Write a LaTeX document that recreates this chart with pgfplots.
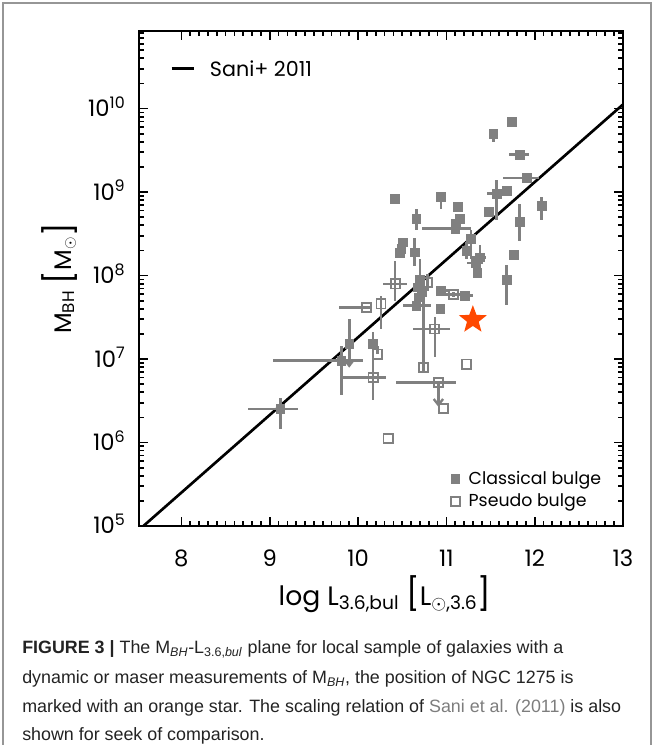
\documentclass[border=0pt]{standalone}
\usepackage{fontspec}
\setmainfont{Liberation Sans}
\newfontfamily\plotfont{Poppins}
\usepackage{pgfplots}
\usepackage{pgfplotstable}
\pgfplotsset{compat=1.18}
\definecolor{pgray}{RGB}{128,128,128}
\definecolor{starorange}{RGB}{255,72,0}
\definecolor{framegray}{RGB}{150,150,150}
\definecolor{linkgray}{RGB}{125,125,125}
\definecolor{captext}{RGB}{35,35,35}

\pgfdeclareplotmark{varrow}{%
  \pgfpathmoveto{\pgfqpoint{-3.5pt}{4.5pt}}%
  \pgfpathlineto{\pgfqpoint{0pt}{0pt}}%
  \pgfpathlineto{\pgfqpoint{3.5pt}{4.5pt}}%
  \pgfusepathqstroke}
\pgfdeclareplotmark{fstar}{%
  \pgfpathmoveto{\pgfpointpolar{90}{\pgfplotmarksize}}%
  \pgfpathlineto{\pgfpointpolar{126}{0.42\pgfplotmarksize}}%
  \pgfpathlineto{\pgfpointpolar{162}{\pgfplotmarksize}}%
  \pgfpathlineto{\pgfpointpolar{198}{0.42\pgfplotmarksize}}%
  \pgfpathlineto{\pgfpointpolar{234}{\pgfplotmarksize}}%
  \pgfpathlineto{\pgfpointpolar{270}{0.42\pgfplotmarksize}}%
  \pgfpathlineto{\pgfpointpolar{306}{\pgfplotmarksize}}%
  \pgfpathlineto{\pgfpointpolar{342}{0.42\pgfplotmarksize}}%
  \pgfpathlineto{\pgfpointpolar{18}{\pgfplotmarksize}}%
  \pgfpathlineto{\pgfpointpolar{54}{0.42\pgfplotmarksize}}%
  \pgfpathclose\pgfusepathqfill}

% x = log L, y = log M_BH, errors in dex
\pgfplotstableread{
x y xm xp ym yp
9.12 6.40 0.37 0.20 0.24 0.13
9.90 7.18 0 0 0.26 0.30
9.81 6.98 0.77 0.25 0.41 0.18
10.17 7.18 0 0 0.05 0.14
10.42 8.92 0 0 0 0
10.94 8.94 0 0 0.14 0
11.13 8.82 0 0 0 0
10.66 8.68 0 0 0.14 0.12
11.15 8.68 0.04 0.04 0.04 0.04
11.11 8.62 0 0 0 0
11.10 8.56 0.38 0.18 0 0
10.51 8.40 0.04 0.04 0.04 0.04
10.49 8.32 0.03 0.03 0.04 0.04
10.47 8.27 0.03 0.03 0.06 0.04
10.64 8.28 0 0 0.17 0.17
10.70 7.95 0 0 0.25 0.25
10.68 7.86 0.04 0.04 0.08 0.08
10.72 7.80 0.05 0.05 0.10 0.10
10.69 7.74 0.03 0.03 0.05 0.10
10.94 7.82 0.05 0.10 0 0
11.21 7.76 0.06 0.09 0.04 0.04
10.66 7.64 0.15 0.17 0 0
10.93 7.60 0 0 0 0
11.28 8.44 0.04 0.04 0.10 0.10
11.23 8.30 0 0 0.10 0.10
11.38 8.22 0.11 0.07 0.13 0.15
11.33 8.15 0.10 0.08 0 0
11.35 8.03 0 0 0.06 0.10
11.53 9.70 0 0 0.10 0.06
11.74 9.84 0 0 0 0
11.83 9.45 0.12 0.11 0 0
11.91 9.17 0.27 0.14 0 0
11.57 8.98 0.11 0.09 0.32 0.16
11.68 9.02 0 0 0 0
11.48 8.76 0.03 0.03 0.04 0.04
11.83 8.64 0 0 0.22 0.22
12.08 8.84 0.04 0.04 0.18 0.10
11.76 8.25 0.03 0.03 0.06 0.06
11.68 7.95 0 0 0.30 0.18
}\classical

\pgfplotstableread{
x y xm xp ym yp
10.42 7.90 0.14 0.13 0.20 0.28
10.79 7.92 0 0 0.10 0.10
10.10 7.62 0.31 0.05 0 0
10.26 7.66 0 0 0.30 0.09
11.08 7.77 0.15 0.16 0.03 0.03
10.87 7.36 0.25 0.17 0.34 0.14
10.22 7.06 0 0 0 0.10
10.17 6.78 0.34 0.15 0.27 0.40
10.74 6.90 0 0 0.05 1.05
11.23 6.94 0 0 0 0
10.91 6.72 0.48 0.20 0.27 0
10.97 6.41 0 0 0 0
10.34 6.05 0 0 0 0
}\pseudo

\newcommand\bigbr[1]{{\fontsize{24}{24}\selectfont #1}}

\begin{document}
\begin{tikzpicture}
\path[use as bounding box] (0,0) rectangle (490.5pt,558.75pt);
\draw[framegray, line width=1.5pt] (2.25pt,0pt) -- (2.25pt,556.5pt) -- (487.9pt,556.5pt) -- (487.9pt,0pt);
\begin{axis}[
  at={(104.25pt,164.25pt)}, anchor=south west,
  scale only axis, width=363pt, height=371.25pt,
  xmin=7.52, xmax=13.0, ymin=5, ymax=10.93,
  xtick={8,9,10,11,12,13}, xticklabels={8,9,10,11,12,13},
  minor x tick num=9,
  ytick={5,6,7,8,9,10},
  yticklabels={10\textsuperscript{5},10\textsuperscript{6},10\textsuperscript{7},10\textsuperscript{8},10\textsuperscript{9},10\textsuperscript{10}},
  minor ytick={5.30103,5.47712,5.60206,5.69897,5.77815,5.84510,5.90309,5.95424,
               6.30103,6.47712,6.60206,6.69897,6.77815,6.84510,6.90309,6.95424,
               7.30103,7.47712,7.60206,7.69897,7.77815,7.84510,7.90309,7.95424,
               8.30103,8.47712,8.60206,8.69897,8.77815,8.84510,8.90309,8.95424,
               9.30103,9.47712,9.60206,9.69897,9.77815,9.84510,9.90309,9.95424,
               10.30103,10.47712,10.60206,10.69897,10.77815,10.84510,10.90309},
  /pgf/number format/assume math mode=true,
  tick align=inside, xtick pos=both, ytick pos=both,
  major tick length=7pt, minor tick length=3.5pt,
  every tick/.style={black, line width=1.3pt},
  axis line style={black, line width=2pt},
  tick label style={font=\plotfont\fontsize{17}{17}\selectfont},
  xticklabel style={anchor=center, yshift=-24pt, inner sep=0pt},
  yticklabel style={anchor=base east, xshift=-10pt, yshift=-6pt, inner sep=0pt},
  xlabel={log\ L\textsubscript{3.6,bul}\ \bigbr{[}L\textsubscript{$\odot$,3.6}\bigbr{]}},
  ylabel={M\textsubscript{BH}\ \bigbr{[}M$_\odot$\bigbr{]}},
  xlabel style={font=\plotfont\fontsize{20}{20}\selectfont, at={(axis description cs:0.508,-0.137)}, anchor=center},
  ylabel style={font=\plotfont\fontsize{18}{18}\selectfont, at={(axis description cs:-0.165,0.5)}, anchor=center},
  legend style={draw=none, fill=none, font=\plotfont\fontsize{13}{13}\selectfont,
    at={(axis description cs:0.642,0.116)}, anchor=north west,
    row sep=1.5pt, inner sep=0pt},
  legend image code/.code={\path[draw=none, fill=none] (0pt,-5pt) rectangle (12pt,5pt); \draw[#1] plot coordinates {(4pt,0pt)};},
  legend cell align=left,
  clip=true,
]
\addplot[black, line width=2pt, forget plot] coordinates {(7.5,4.935) (13,10.05)};
\addplot[only marks, mark=square*, mark size=3.3pt, color=pgray,
  error bars/.cd, x dir=both, x explicit, y dir=both, y explicit,
  error bar style={line width=2pt, pgray}, error mark=none]
  table[x=x, y=y, x error plus=xp, x error minus=xm, y error plus=yp, y error minus=ym] {\classical};
\addlegendentry{Classical bulge}
\addplot[only marks, mark=square, mark size=3.4pt, color=pgray, mark options={line width=1.4pt},
  error bars/.cd, x dir=both, x explicit, y dir=both, y explicit,
  error bar style={line width=2pt, pgray}, error mark=none]
  table[x=x, y=y, x error plus=xp, x error minus=xm, y error plus=yp, y error minus=ym] {\pseudo};
\addlegendentry{Pseudo bulge}
\addplot[only marks, mark=varrow, color=pgray, mark options={line width=1.8pt}, forget plot]
  coordinates {(9.90,6.92) (10.91,6.45)};
\addplot[only marks, mark=fstar, mark size=11pt, color=starorange, forget plot]
  coordinates {(11.30,7.47)};
\draw[black, line width=2pt] (axis cs:7.89,10.48) -- (axis cs:8.14,10.48);
\node[anchor=west, inner sep=0pt, font=\plotfont\fontsize{15.5}{15.5}\selectfont] at (axis cs:8.32,10.48) {Sani+ 2011};
\end{axis}
\begin{scope}[every node/.style={anchor=base west, inner sep=0pt, text=captext, font=\fontsize{13.4}{16}\selectfont}]
\node at (16.5pt,68.25pt) {\textbf{FIGURE 3 |} The M\textsubscript{\textit{BH}}-L\textsubscript{3.6,\textit{bul}} plane for local sample of galaxies with a};
\node at (16.5pt,46.0pt) {dynamic or maser measurements of M\textsubscript{\textit{BH}}, the position of NGC 1275 is};
\node at (16.5pt,24.5pt) {marked with an orange star. The scaling relation of {\color{linkgray}Sani et al. (2011)} is also};
\node at (16.5pt,3.5pt) {shown for seek of comparison.};
\end{scope}
\end{tikzpicture}
\end{document}
